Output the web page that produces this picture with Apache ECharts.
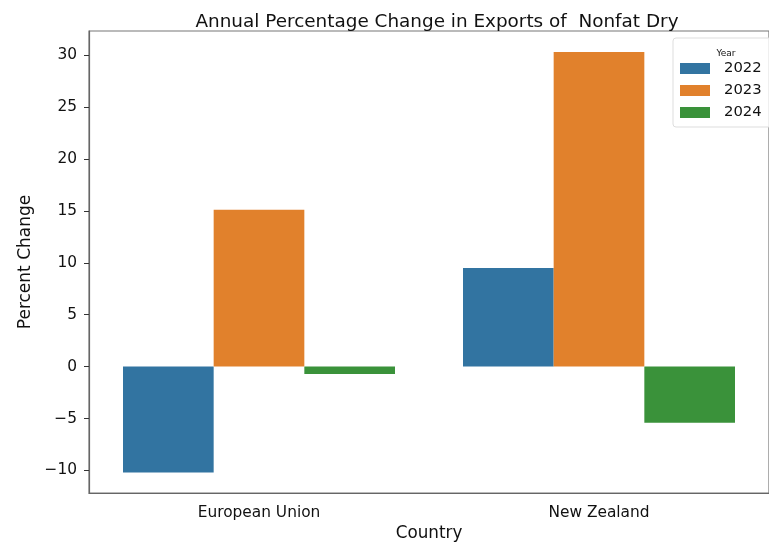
<!DOCTYPE html>
<html>
<head>
<meta charset="utf-8">
<script src="https://cdn.jsdelivr.net/npm/echarts@6/dist/echarts.min.js"></script>
<style>
  html, body { margin: 0; padding: 0; background: #fff; }
  #mychart { width: 769px; height: 547px; }
</style>
</head>
<body>
<div id="mychart"></div>
<script>
// data
var countries = ['European Union', 'New Zealand'];
var years = ['2022', '2023', '2024'];
var values2022 = [-10.2, 9.5];
var values2023 = [15.1, 30.3];
var values2024 = [-0.7, -5.4];
var yearColors = ['#3274a1', '#e1812c', '#3a923a'];

var font = 'DejaVu Sans';
var myChart = echarts.init(document.getElementById('mychart'));

var seriesValues = [values2022, values2023, values2024];
var series = [];
for (var i = 0; i < years.length; i++) {
  series.push({
    name: years[i],
    type: 'bar',
    data: seriesValues[i],
    barGap: '0%',
    barCategoryGap: '20%',
    itemStyle: { color: yearColors[i] }
  });
}

var option = {
  backgroundColor: '#fff',
  animation: false,
  color: yearColors,
  title: [
    {
      text: 'Annual Percentage Change in Exports of  Nonfat Dry',
      left: 432, top: 8, textAlign: 'center',
      textStyle: { fontFamily: font, fontSize: 18.4, fontWeight: 'normal', color: '#111' }
    },
    {
      // legend title
      text: 'Year',
      left: 721, top: 44, textAlign: 'center',
      textStyle: { fontFamily: font, fontSize: 9, fontWeight: 'normal', color: '#111' }
    }
  ],
  legend: {
    data: years,
    orient: 'vertical',
    left: 673, top: 38,
    width: 95,
    padding: [23, 10, 7, 7],
    itemWidth: 30, itemHeight: 11, itemGap: 7,
    borderColor: '#ddd', borderWidth: 1, borderRadius: 3,
    backgroundColor: 'rgba(255,255,255,0.8)',
    icon: 'rect',
    textStyle: { fontFamily: font, fontSize: 14.8, color: '#111', padding: [0, 0, 0, 9] }
  },
  // frame (top spine); right side falls just outside the page like the reference
  grid: {
    left: 89, right: -7, top: 31, bottom: 48, containLabel: false,
    show: true, borderColor: '#777', borderWidth: 1.2, backgroundColor: 'transparent'
  },
  xAxis: {
    type: 'category',
    data: countries,
    name: 'Country',
    nameLocation: 'middle',
    nameGap: 32,
    nameTextStyle: { fontFamily: font, fontSize: 16.8, color: '#111' },
    axisLine: { onZero: false, lineStyle: { color: '#666', width: 1.2 } },
    axisTick: { alignWithLabel: true, length: 5, lineStyle: { color: '#333' } },
    axisLabel: { fontFamily: font, fontSize: 15.4, color: '#111', margin: 12 },
    splitLine: { show: false }
  },
  yAxis: {
    type: 'value',
    min: -12.17, max: 32.32,
    splitNumber: 9,
    name: 'Percent Change',
    nameLocation: 'middle',
    nameGap: 50,
    nameTextStyle: { fontFamily: font, fontSize: 17, color: '#111' },
    axisLine: { show: true, lineStyle: { color: '#666', width: 1.2 } },
    axisTick: { show: true, length: 5, lineStyle: { color: '#333' } },
    axisLabel: {
      fontFamily: font, fontSize: 15.4, color: '#111', margin: 12,
      showMinLabel: false, showMaxLabel: false,
      formatter: function (v) { return v < 0 ? '\u2212' + Math.abs(v) : String(v); }
    },
    splitLine: { show: false }
  },
  series: series
};

myChart.setOption(option);
</script>
</body>
</html>
